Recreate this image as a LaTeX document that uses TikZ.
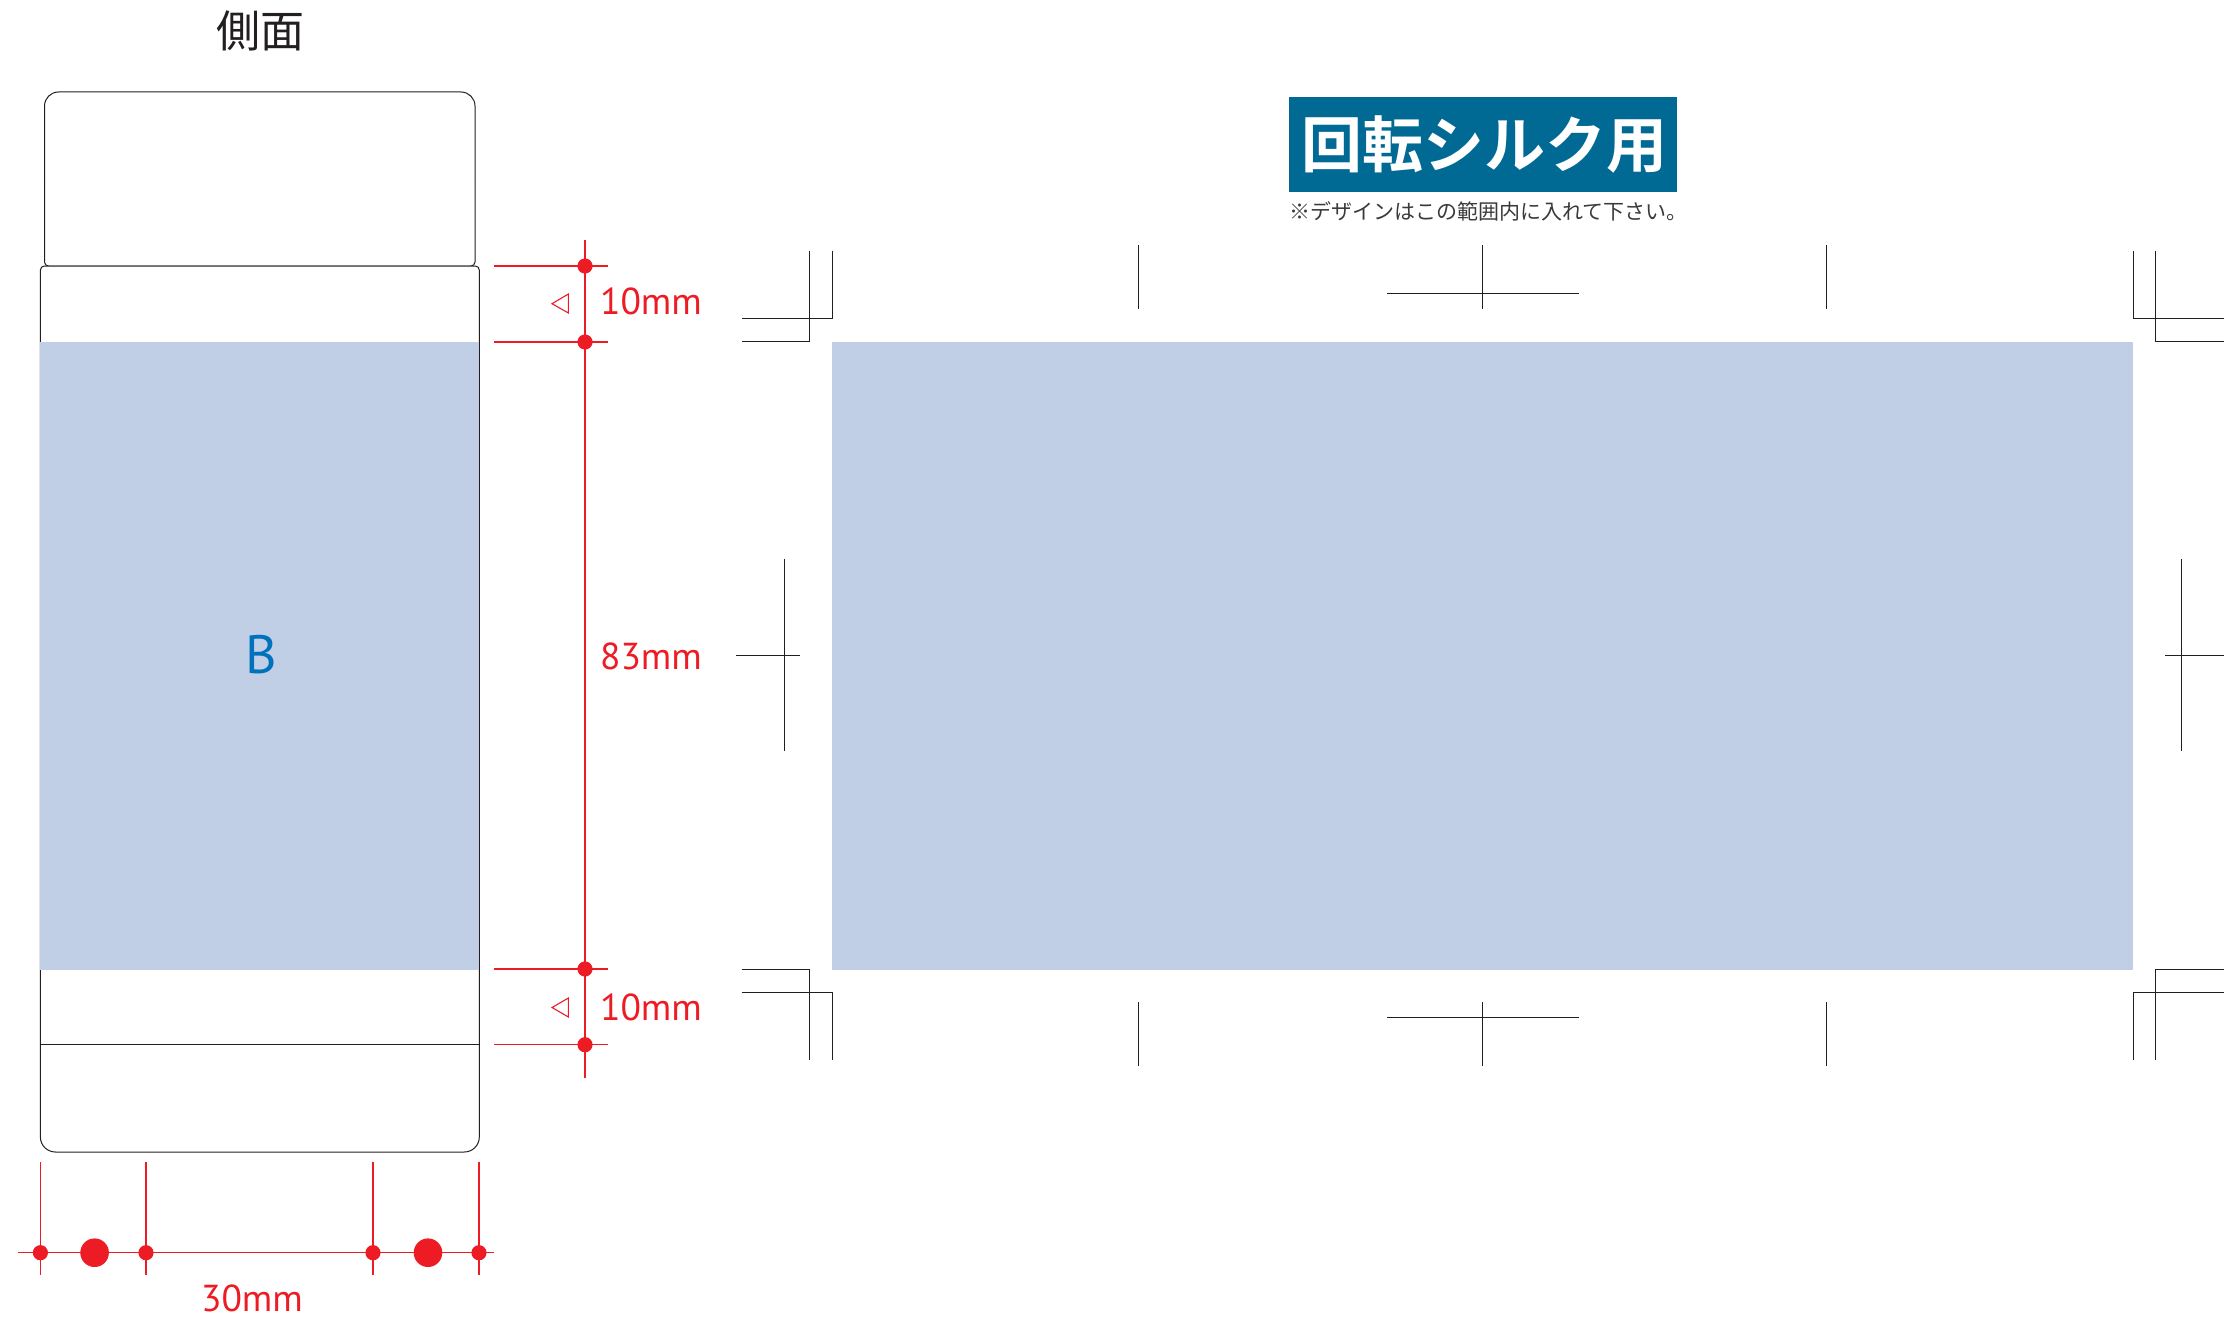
\documentclass[tikz,border=0pt]{standalone}
\usepackage{fontspec}
\setmainfont{PT Sans}
\newfontfamily\cjk{Noto Sans CJK JP}
\newfontfamily\cjkb{Noto Sans CJK JP Bold}
\definecolor{dimred}{HTML}{ED1C24}
\definecolor{areablue}{HTML}{C0CFE6}
\definecolor{banner}{HTML}{006A94}
\definecolor{letterblue}{HTML}{0072BC}
\definecolor{ink}{HTML}{231F20}
\definecolor{softink}{HTML}{3A3A3A}
\tikzset{
  outline/.style={draw=ink,line width=1pt},
  crop/.style={draw=ink,line width=1pt},
  dimline/.style={draw=dimred,line width=1.1pt},
  dimtext/.style={text=dimred,inner sep=0pt,anchor=center,font=\fontsize{37.5}{37.5}\selectfont},
  area/.style={fill=areablue,draw=none},
}
\newcommand{\smalldot}[2]{\fill[dimred] (#1,#2) circle[radius=7.6pt];}
\newcommand{\bigdot}[2]{\fill[dimred] (#1,#2) circle[radius=14.3pt];}
\begin{document}
\begin{tikzpicture}[x=1pt,y=-1pt]
\useasboundingbox (0,0) rectangle (2224,1319);
% title
\node[inner sep=0pt,text=ink,font=\cjk\fontsize{44}{44}\selectfont] (title) at (260,31) {側面};
% cap
\draw[outline,rounded corners=14pt] (44.5,180) -- (44.5,92) -- (475,92) -- (475,180);
\draw[outline,rounded corners=4pt] (475,180) -- (475,266) -- (44.5,266) -- (44.5,180);
% body
\draw[outline,fill=white,rounded corners=4pt] (40.4,700) -- (40.4,266) -- (479.3,266) -- (479.3,700)
  [rounded corners=15pt] -- (479.3,1152) -- (40.4,1152) -- cycle;
\fill[area] (40,342) rectangle (479,969.7);
\draw[outline] (40.4,1044.7) -- (479.3,1044.7);
\node[inner sep=0pt,text=letterblue,font=\fontsize{54}{54}\selectfont] (letterB) at (261,655) {B};
% vertical dimension
\draw[dimline] (585,240) -- (585,1078);
\foreach \yy in {266,342,969,1044.7} {
  \draw[dimline] (494,\yy) -- (607.5,\yy);
  \smalldot{585}{\yy}
}
\draw[dimline] (552,303.7) -- (568.4,294) -- (568.4,313) -- cycle;
\draw[dimline] (552,1007.5) -- (568.4,998) -- (568.4,1017) -- cycle;
\node[dimtext] (dimA) at (651,301) {10mm};
\node[dimtext] (dimB) at (651,656) {83mm};
\node[dimtext] (dimC) at (651,1007) {10mm};
% horizontal dimension
\draw[dimline] (18,1252.7) -- (494,1252.7);
\foreach \xx in {40.4,146,373,479} {
  \draw[dimline] (\xx,1162) -- (\xx,1275);
  \smalldot{\xx}{1252.7}
}
\bigdot{94.6}{1252.7}
\bigdot{428}{1252.7}
\node[dimtext] (dimD) at (252,1298) {30mm};
% banner
\node[fill=banner,minimum width=388pt,minimum height=95pt,inner sep=0pt] (banner) at (1483,144.5) {};
\node[inner sep=0pt,text=white,font=\cjkb\fontsize{61}{61}\selectfont] (bannertext) at (1484.5,144.5) {回転シルク用};
\node[inner sep=0pt,text=softink,font=\cjk\fontsize{21}{21}\selectfont] (note) at (1488.5,211) {※デザインはこの範囲内に入れて下さい。};
% print area
\fill[area] (832,342) rectangle (2133,970);
% crop marks, corners
\draw[crop] (809.7,250.7) -- (809.7,341.3) -- (741.7,341.3);
\draw[crop] (832.3,250.7) -- (832.3,318.7) -- (741.7,318.7);
\draw[crop] (2133,250.7) -- (2133,318.7) -- (2224,318.7);
\draw[crop] (2155.7,250.7) -- (2155.7,341.3) -- (2224,341.3);
\draw[crop] (741.7,969.7) -- (809.7,969.7) -- (809.7,1060);
\draw[crop] (741.7,992.3) -- (832.3,992.3) -- (832.3,1060);
\draw[crop] (2224,969.7) -- (2155.7,969.7) -- (2155.7,1060);
\draw[crop] (2224,992.3) -- (2133,992.3) -- (2133,1060);
% crop marks, centres
\draw[crop] (1482.7,245.3) -- (1482.7,309.3);
\draw[crop] (1387,293.3) -- (1578.7,293.3);
\draw[crop] (1482.7,1002) -- (1482.7,1065.5);
\draw[crop] (1387,1017) -- (1578.7,1017);
\draw[crop] (1138,245.3) -- (1138,309.3);
\draw[crop] (1826.5,245.3) -- (1826.5,309.3);
\draw[crop] (1138,1002) -- (1138,1065.5);
\draw[crop] (1826.5,1002) -- (1826.5,1065.5);
\draw[crop] (784,559) -- (784,751);
\draw[crop] (736,655.5) -- (800,655.5);
\draw[crop] (2181,559) -- (2181,751);
\draw[crop] (2165,655.5) -- (2224,655.5);
\end{tikzpicture}
\end{document}
